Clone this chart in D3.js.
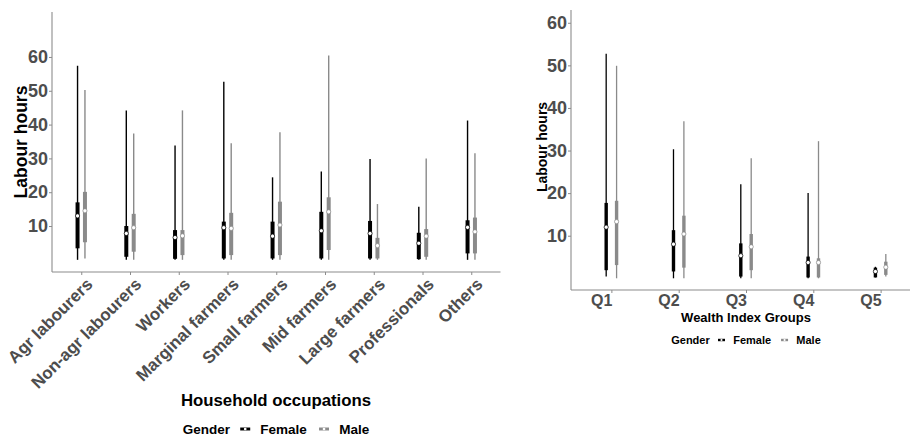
<!DOCTYPE html>
<html>
<head>
<meta charset="utf-8">
<script src="https://cdn.jsdelivr.net/npm/d3@7"></script>
<style>
  html, body { margin: 0; padding: 0; background: #fff; }
  svg { display: block; font-family: "Liberation Sans", Arial, sans-serif; font-weight: bold; }
</style>
</head>
<body>
<svg id="chart" width="910" height="437"></svg>
<script>
// Household occupations: [min, lower quartile, median, upper quartile, max] labour hours
const occupations = ["Agr labourers", "Non-agr labourers", "Workers", "Marginal farmers",
  "Small farmers", "Mid farmers", "Large farmers", "Professionals", "Others"];
const occFemale = [
  [0, 3.4, 13.0, 17.0, 57.4],
  [0, 0.9, 7.8, 10.0, 44.2],
  [0, 0.3, 6.6, 8.8, 33.8],
  [0, 0.4, 9.5, 11.3, 52.7],
  [0, 0.4, 7.0, 11.3, 24.4],
  [0, 0.4, 8.6, 14.2, 26.1],
  [0, 0.4, 7.8, 11.5, 29.8],
  [0, 0.2, 4.9, 8.0, 15.7],
  [0, 1.9, 9.6, 11.7, 41.2]
];
const occMale = [
  [0.4, 5.2, 14.5, 20.1, 50.2],
  [0, 2.4, 9.5, 13.6, 37.4],
  [0, 1.4, 7.1, 8.8, 44.2],
  [0, 1.4, 9.3, 13.9, 34.5],
  [0, 1.4, 10.3, 17.2, 37.7],
  [0, 2.9, 14.2, 18.5, 60.4],
  [0, 0.4, 4.2, 6.5, 16.5],
  [0, 0.9, 7.0, 9.1, 30.0],
  [0, 1.9, 8.3, 12.5, 31.5]
];
const occTicks = [10, 20, 30, 40, 50, 60];

// Wealth index groups
const wealthGroups = ["Q1", "Q2", "Q3", "Q4", "Q5"];
const wealthFemale = [
  [0.4, 1.9, 12.0, 17.7, 52.7],
  [0, 1.6, 8.0, 11.3, 30.3],
  [0, 0.4, 5.3, 8.2, 22.1],
  [0, 0.2, 3.7, 5.1, 20.0],
  [0.2, 0.2, 1.6, 2.5, 2.7]
];
const wealthMale = [
  [0, 3.1, 13.3, 18.2, 49.9],
  [0, 2.5, 10.4, 14.7, 36.9],
  [0, 1.9, 7.4, 10.4, 28.2],
  [0, 0.2, 3.7, 4.7, 32.2],
  [0.4, 0.8, 2.6, 3.9, 5.7]
];
const wealthTicks = [10, 20, 30, 40, 50, 60];

const genders = ["Female", "Male"];
const genderColor = { Female: "#000000", Male: "#8a8a8a" };
const axisColor = "#8c8c8c";
const tickTextColor = "#4d4d4d";
const fontFamily = "Liberation Sans, Arial, sans-serif";

const svg = d3.select("#chart");

// Tufte-style box: thin whisker, thick inter-quartile bar, white median point
function drawBoxes(g, cats, female, male, x, y, dodge, boxW, whiskW) {
  const series = [{ key: "Female", vals: female, off: -dodge }, { key: "Male", vals: male, off: dodge }];
  series.forEach(s => {
    const grp = g.append("g");
    cats.forEach((c, i) => {
      const [mn, q1, md, q3, mx] = s.vals[i];
      const cx = x(c) + s.off;
      grp.append("line").attr("x1", cx).attr("x2", cx)
        .attr("y1", y(mn)).attr("y2", y(mx))
        .attr("stroke", genderColor[s.key]).attr("stroke-width", whiskW);
      grp.append("line").attr("x1", cx).attr("x2", cx)
        .attr("y1", y(q1)).attr("y2", y(q3))
        .attr("stroke", genderColor[s.key]).attr("stroke-width", boxW);
      grp.append("circle").attr("cx", cx).attr("cy", y(md)).attr("r", 2.1)
        .attr("fill", "#fff").attr("stroke", genderColor[s.key]).attr("stroke-width", 0.7);
    });
  });
}

function drawLegend(g, cx, cy, fontSize, keyLen) {
  const leg = g.append("g");
  const gap = fontSize * 0.75;
  const t0 = leg.append("text").attr("x", 0).attr("y", cy).attr("dy", "0.35em")
    .attr("font-size", fontSize).attr("fill", "#000").text("Gender");
  let xpos = t0.node().getComputedTextLength() + gap;
  genders.forEach(gd => {
    const kx = xpos + keyLen / 2;
    leg.append("line").attr("x1", kx - keyLen / 2).attr("x2", kx + keyLen / 2)
      .attr("y1", cy).attr("y2", cy)
      .attr("stroke", genderColor[gd]).attr("stroke-width", fontSize * 0.22);
    leg.append("circle").attr("cx", kx).attr("cy", cy).attr("r", fontSize * 0.1)
      .attr("fill", "#fff");
    xpos += keyLen + gap;
    const t = leg.append("text").attr("x", xpos).attr("y", cy).attr("dy", "0.35em")
      .attr("font-size", fontSize).attr("fill", "#000").text(gd);
    xpos += t.node().getComputedTextLength() + gap * 1.2;
  });
  const total = xpos - gap * 1.2;
  leg.attr("transform", `translate(${cx - total / 2},0)`);
}

function styleAxes(yAxis, xAxis) {
  [yAxis, xAxis].forEach(a => {
    a.selectAll(".domain").attr("stroke", axisColor).attr("stroke-width", 1.1);
    a.selectAll(".tick line").attr("stroke", axisColor);
  });
  yAxis.selectAll("text").attr("font-size", 18).attr("fill", tickTextColor)
    .attr("font-family", fontFamily).attr("font-weight", "bold");
}

// ---------- Left panel: household occupations ----------
{
  const left = 52, right = 500.5, top = 12, bottom = 272;
  const g = svg.append("g");
  const x = d3.scalePoint().domain(occupations).range([left, right]).padding(0.6);
  const y = d3.scaleLinear().domain([-3.6, 73.3]).range([bottom, top]);

  const yAxis = g.append("g").attr("transform", `translate(${left},0)`)
    .call(d3.axisLeft(y).tickValues(occTicks).tickSize(3).tickPadding(1).tickFormat(d3.format("d")));
  yAxis.select(".domain").attr("d", `M0,${top}V${bottom}`);
  const xAxis = g.append("g").attr("transform", `translate(0,${bottom})`)
    .call(d3.axisBottom(x).tickSize(3).tickFormat(""));
  xAxis.select(".domain").attr("d", `M${left},0H${right}`);
  styleAxes(yAxis, xAxis);

  // rotated category labels
  g.append("g").selectAll("text").data(occupations).join("text")
    .attr("transform", d => `translate(${x(d) + 4},${bottom + 5}) rotate(-45)`)
    .attr("text-anchor", "end").attr("dy", "0.7em")
    .attr("font-size", 17).attr("fill", tickTextColor).text(d => d);

  drawBoxes(g, occupations, occFemale, occMale, x, y, 3.7, 4, 1.4);

  g.append("text").attr("transform", `translate(21,142) rotate(-90)`)
    .attr("text-anchor", "middle").attr("dy", "0.35em")
    .attr("font-size", 17.5).attr("fill", "#000").text("Labour hours");
  g.append("text").attr("x", 276).attr("y", 400).attr("dy", "0.35em")
    .attr("text-anchor", "middle").attr("font-size", 16.8).attr("fill", "#000")
    .text("Household occupations");
  drawLegend(g, 276, 429, 13.5, 10);
}

// ---------- Right panel: wealth index groups ----------
{
  const left = 571, right = 921, top = 10, bottom = 290;
  const g = svg.append("g");
  const x = d3.scalePoint().domain(wealthGroups).range([left, right]).padding(0.6);
  const y = d3.scaleLinear().domain([-2.75, 63]).range([bottom, top]);

  const yAxis = g.append("g").attr("transform", `translate(${left},0)`)
    .call(d3.axisLeft(y).tickValues(wealthTicks).tickSize(3).tickPadding(1).tickFormat(d3.format("d")));
  yAxis.select(".domain").attr("d", `M0,${top}V${bottom}`);
  const xAxis = g.append("g").attr("transform", `translate(0,${bottom})`)
    .call(d3.axisBottom(x).tickSize(3).tickFormat(""));
  xAxis.select(".domain").attr("d", `M${left},0H${right}`);
  styleAxes(yAxis, xAxis);

  g.append("g").selectAll("text").data(wealthGroups).join("text")
    .attr("x", d => x(d) + 1).attr("y", bottom + 16)
    .attr("text-anchor", "end").attr("font-size", 16).attr("fill", tickTextColor).text(d => d);

  drawBoxes(g, wealthGroups, wealthFemale, wealthMale, x, y, 5.2, 3.4, 1.3);

  g.append("text").attr("transform", `translate(542,147) rotate(-90)`)
    .attr("text-anchor", "middle").attr("dy", "0.35em")
    .attr("font-size", 14).attr("fill", "#000").text("Labour hours");
  g.append("text").attr("x", 746).attr("y", 317).attr("dy", "0.35em")
    .attr("text-anchor", "middle").attr("font-size", 13).attr("fill", "#000")
    .text("Wealth Index Groups");
  drawLegend(g, 746, 340, 11, 7);
}
</script>
</body>
</html>
